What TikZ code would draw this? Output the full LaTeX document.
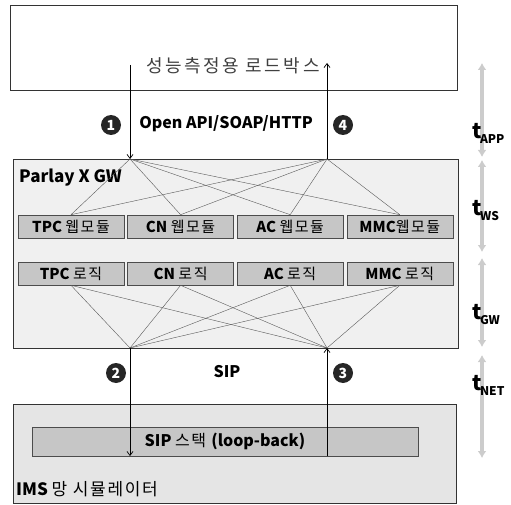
\documentclass[tikz,border=0pt]{standalone}
\usepackage{fontspec}
\setmainfont{Noto Sans CJK KR}
\newfontfamily\titlefont{Noto Sans CJK KR}[LetterSpace=14]
\newfontfamily\krwide{Noto Sans CJK KR}[LetterSpace=10]
\usetikzlibrary{arrows.meta, positioning}

\newcommand{\tlab}[1]{{\bfseries\fontsize{21}{21}\selectfont t}\kern-1.5pt\raisebox{-5pt}{\bfseries\fontsize{12}{12}\selectfont #1}}
\newcommand{\kw}[1]{{\krwide #1}}

\begin{document}
\begin{tikzpicture}[
    x=1pt, y=-1pt,
    node distance=3pt and 3pt,
    layer/.style={rectangle, draw=black!80, line width=0.8pt, inner sep=0pt},
    modbox/.style={rectangle, draw=black!70, fill=gray!45, line width=0.6pt, minimum width=106pt, minimum height=23pt, inner sep=0pt, font=\fontsize{15}{15}\selectfont},
    fan/.style={draw=black!65, line width=0.4pt},
    flow/.style={-{Straight Barb[length=4pt, width=6pt]}, draw=black, line width=0.7pt},
    stepnum/.style={circle, fill=black!85, text=white, inner sep=0pt, minimum size=20pt, font=\bfseries\fontsize{14}{14}\selectfont},
    tspan/.style={{Latex[length=7pt, width=9pt]}-{Latex[length=7pt, width=9pt]}, draw=gray!40, line width=3.5pt},
    tnote/.style={anchor=west, inner sep=0pt}
]
    \useasboundingbox (0,0) rectangle (511,505);

    % Load box (top)
    \node[layer, fill=white, minimum width=447pt, minimum height=85pt] (load) at (233.5,47.5) {};
    \node[text=black!75, font=\titlefont\fontsize{18}{18}\selectfont] (title) at (233,66) {성능측정용 로드박스};

    % Parlay X gateway
    \node[layer, fill=gray!12, minimum width=445pt, minimum height=189pt] (gw) at (235.5,253.5) {};
    \node[tnote, font=\bfseries\fontsize{17}{17}\selectfont] (gwname) at (19,178) {Parlay X GW};

    % web modules
    \node[modbox] (tpcw) at (71,226.5) {\textbf{TPC} \kw{웹모듈}};
    \node[modbox, right=of tpcw] (cnw) {\textbf{CN} \kw{웹모듈}};
    \node[modbox, right=of cnw] (acw) {\textbf{AC} \kw{웹모듈}};
    \node[modbox, right=of acw] (mmcw) {\textbf{MMC}\kw{웹모듈}};

    % logic modules
    \node[modbox] (tpcl) at (71,273.5) {\textbf{TPC} \kw{로직}};
    \node[modbox, right=of tpcl] (cnl) {\textbf{CN} \kw{로직}};
    \node[modbox, right=of cnl] (acl) {\textbf{AC} \kw{로직}};
    \node[modbox, right=of acl] (mmcl) {\textbf{MMC} \kw{로직}};

    % IMS simulator (bottom)
    \node[layer, fill=gray!20, minimum width=443pt, minimum height=99pt] (ims) at (234.5,453.5) {};
    \node[rectangle, draw=black!70, fill=gray!45, line width=0.6pt, minimum width=386pt, minimum height=29pt, inner sep=0pt, font=\fontsize{16}{16}\selectfont] (stack) at (225,441.5) {\textbf{SIP} \kw{스택} \textbf{(loop-back)}};
    \node[tnote, font=\fontsize{17}{17}\selectfont] (imsname) at (16,489) {\textbf{IMS} \kw{망 시뮬레이터}};

    % convergence points
    \coordinate (req) at (130,65);
    \coordinate (res) at (327,63);
    \coordinate (gwin) at (130,159);
    \coordinate (gwout) at (327,159);
    \coordinate (sipout) at (130,348);
    \coordinate (sipin) at (327,348);
    \coordinate (loopin) at (130,456);
    \coordinate (loopout) at (327,456);

    % fan-out lines
    \foreach \m in {tpcw,cnw,acw,mmcw} {
        \draw[fan] (gwin) -- (\m.north);
        \draw[fan] (gwout) -- (\m.north);
    }
    \foreach \m in {tpcl,cnl,acl,mmcl} {
        \draw[fan] (\m.south) -- (sipout);
        \draw[fan] (\m.south) -- (sipin);
    }

    % message flow
    \draw[flow] (req) -- (gwin);
    \draw[flow] (gwout) -- (res);
    \draw[flow] (sipout) -- (loopin);
    \draw[flow] (loopout) -- (sipin);

    \node[stepnum] (s1) at (111,125) {1};
    \node[stepnum] (s4) at (343,125) {4};
    \node[stepnum] (s2) at (116,373) {2};
    \node[stepnum] (s3) at (343,373) {3};
    \node[font=\bfseries\fontsize{16}{16}\selectfont] (api) at (226,124) {Open API/SOAP/HTTP};
    \node[font=\bfseries\fontsize{16}{16}\selectfont] (sip) at (227,372) {SIP};

    % time spans
    \coordinate (ta) at (482,63);   \coordinate (tb) at (482,157);
    \coordinate (tc) at (482,160);  \coordinate (td) at (482,252);
    \coordinate (te) at (482,258);  \coordinate (tf) at (482,347);
    \coordinate (tg) at (482,355);  \coordinate (th) at (482,458);
    \draw[tspan] (ta) -- (tb);
    \draw[tspan] (tc) -- (td);
    \draw[tspan] (te) -- (tf);
    \draw[tspan] (tg) -- (th);
    \node[tnote] (tapp) at (472,133) {\tlab{APP}};
    \node[tnote] (tws) at (472,211) {\tlab{WS}};
    \node[tnote] (tgw) at (472,315) {\tlab{GW}};
    \node[tnote] (tnet) at (472,385) {\tlab{NET}};
\end{tikzpicture}
\end{document}
